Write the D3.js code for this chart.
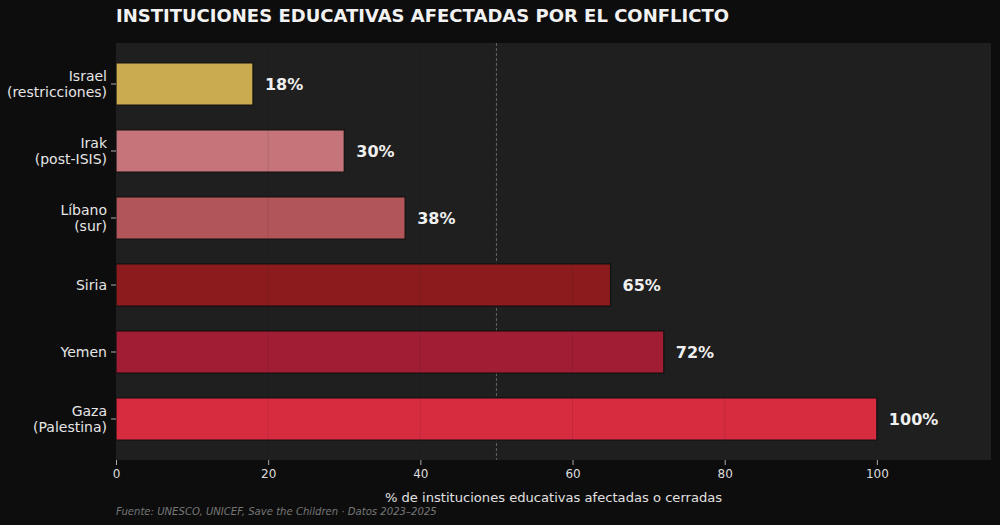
<!DOCTYPE html>
<html>
<head>
<meta charset="utf-8">
<script src="https://cdn.jsdelivr.net/npm/d3@7"></script>
<style>
  body { margin: 0; background: #0d0d0d; }
  svg { display: block; font-family: "DejaVu Sans", sans-serif; }
</style>
</head>
<body>
<div id="chart"></div>
<script>
// data
const regions = ["Israel\n(restricciones)", "Irak\n(post-ISIS)", "Líbano\n(sur)", "Siria", "Yemen", "Gaza\n(Palestina)"];
const values = [18, 30, 38, 65, 72, 100];
const barColors = ["#cbab50", "#c57479", "#b25558", "#8c1b1e", "#a01d33", "#d72b40"];
const xTicks = [0, 20, 40, 60, 80, 100];

const width = 1000, height = 525;
const plot = {left: 116, right: 991, top: 43, bottom: 460};

const svg = d3.select("#chart").append("svg")
    .attr("width", width)
    .attr("height", height);

svg.append("rect").attr("width", width).attr("height", height).attr("fill", "#0d0d0d");

// plot background
svg.append("rect")
    .attr("x", plot.left).attr("y", plot.top)
    .attr("width", plot.right - plot.left).attr("height", plot.bottom - plot.top)
    .attr("fill", "#1f1f1f");

const x = d3.scaleLinear().domain([0, 115]).range([plot.left, plot.right]);
const y = d3.scaleBand().domain(regions)
    .range([50.5, 452.5])
    .paddingInner(0.37).paddingOuter(0.185);

// reference line at 50%
svg.append("line")
    .attr("x1", x(50)).attr("x2", x(50))
    .attr("y1", plot.top).attr("y2", plot.bottom)
    .attr("stroke", "#666")
    .attr("stroke-width", 1)
    .attr("stroke-dasharray", "3,2");

// bars
svg.append("g")
    .selectAll("rect")
    .data(regions)
    .join("rect")
    .attr("x", x(0))
    .attr("y", d => y(d))
    .attr("width", (d, i) => x(values[i]) - x(0))
    .attr("height", y.bandwidth())
    .attr("fill", (d, i) => barColors[i])
    .attr("stroke", "#111")
    .attr("stroke-width", 1.2);

// faint grid lines, only visible over the bars
svg.append("g")
    .selectAll("line")
    .data(xTicks.filter(d => d > 0))
    .join("line")
    .attr("x1", d => x(d)).attr("x2", d => x(d))
    .attr("y1", plot.top).attr("y2", plot.bottom)
    .attr("stroke", "#202020")
    .attr("stroke-opacity", 0.12)
    .attr("stroke-width", 1);

// value labels
svg.append("g")
    .selectAll("text")
    .data(regions)
    .join("text")
    .attr("x", (d, i) => x(values[i]) + 12)
    .attr("y", d => y(d) + y.bandwidth() / 2)
    .attr("dy", "0.36em")
    .attr("fill", "#f0f0f0")
    .attr("font-size", 16)
    .attr("font-weight", "bold")
    .text((d, i) => values[i] + "%");

// y axis labels + ticks
const yAxis = svg.append("g");
regions.forEach(r => {
    const cy = y(r) + y.bandwidth() / 2;
    yAxis.append("line")
        .attr("x1", plot.left - 5).attr("x2", plot.left)
        .attr("y1", cy).attr("y2", cy)
        .attr("stroke", "#aaa");
    const lines = r.split("\n");
    const t = yAxis.append("text")
        .attr("x", plot.left - 9)
        .attr("text-anchor", "end")
        .attr("fill", "#e6e6e6")
        .attr("font-size", 14);
    lines.forEach((l, i) => {
        t.append("tspan")
            .attr("x", plot.left - 9)
            .attr("y", cy + (i - (lines.length - 1) / 2) * 16)
            .attr("dy", "0.35em")
            .text(l);
    });
});

// x axis
const xAxis = svg.append("g")
    .attr("transform", `translate(0,${plot.bottom})`)
    .call(d3.axisBottom(x).tickValues(xTicks).tickSize(5).tickPadding(4));
xAxis.select(".domain").remove();
xAxis.selectAll("line").attr("stroke", "#aaa");
xAxis.selectAll("text").attr("fill", "#dddddd").attr("font-size", 12).attr("font-family", "DejaVu Sans");

svg.append("text")
    .attr("x", (plot.left + plot.right) / 2)
    .attr("y", 502)
    .attr("text-anchor", "middle")
    .attr("fill", "#e0e0e0")
    .attr("font-size", 13.1)
    .text("% de instituciones educativas afectadas o cerradas");

// title
svg.append("text")
    .attr("x", plot.left)
    .attr("y", 22)
    .attr("fill", "#f2f2f2")
    .attr("font-size", 18)
    .attr("font-weight", "bold")
    .text("INSTITUCIONES EDUCATIVAS AFECTADAS POR EL CONFLICTO");

// source
svg.append("text")
    .attr("x", plot.left)
    .attr("y", 515)
    .attr("fill", "#777")
    .attr("font-size", 10.1)
    .attr("font-style", "italic")
    .text("Fuente: UNESCO, UNICEF, Save the Children · Datos 2023–2025");
</script>
</body>
</html>
